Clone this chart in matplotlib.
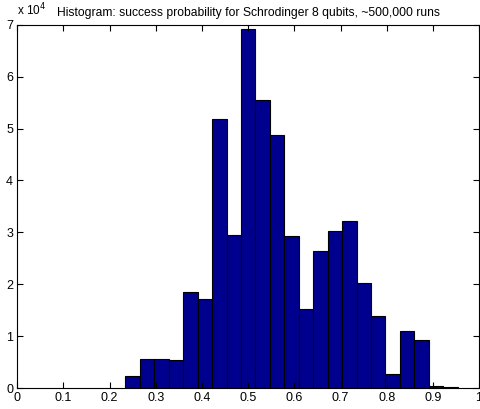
import numpy as np
import matplotlib.pyplot as plt
from matplotlib.ticker import FuncFormatter

plt.rcParams['font.family'] = ['Liberation Sans', 'DejaVu Sans']

# histogram bins (left edge, width) and counts per bin
bin_start = 0.234
bin_width = 0.0313
counts = [2300, 5500, 5600, 5400, 18500, 17100, 51800, 29500, 69200, 55500,
          48800, 29300, 15200, 26500, 30300, 32100, 20300, 13900, 2700, 10900,
          9300, 400, 100]

edges = bin_start + bin_width * np.arange(len(counts))

fig = plt.figure(figsize=(4.8, 4.09), dpi=100)
ax = fig.add_axes([0.036, 0.0513, 0.962, 0.888])

ax.bar(edges, counts, width=bin_width, align='edge',
       color='#00008F', edgecolor='black', linewidth=0.8)

ax.set_xlim(0, 1)
ax.set_ylim(0, 70000)
ax.set_xticks(np.arange(0, 1.01, 0.1))
ax.set_yticks(np.arange(0, 70001, 10000))
ax.xaxis.set_major_formatter(FuncFormatter(lambda v, p: f"{v:g}"))
ax.yaxis.set_major_formatter(FuncFormatter(lambda v, p: f"{v / 1e4:g}"))
ax.tick_params(direction='in', length=4, width=0.8, labelsize=9,
               top=True, right=True, pad=3)
for s in ax.spines.values():
    s.set_linewidth(0.8)

ax.set_title("Histogram: success probability for Schrodinger 8 qubits, ~500,000 runs",
             fontsize=8.7, pad=6)
fig.text(0.036, 0.955, r"x 10$^4$", fontsize=8.5, ha='left', va='bottom')

fig.savefig("out.png", dpi=100)
